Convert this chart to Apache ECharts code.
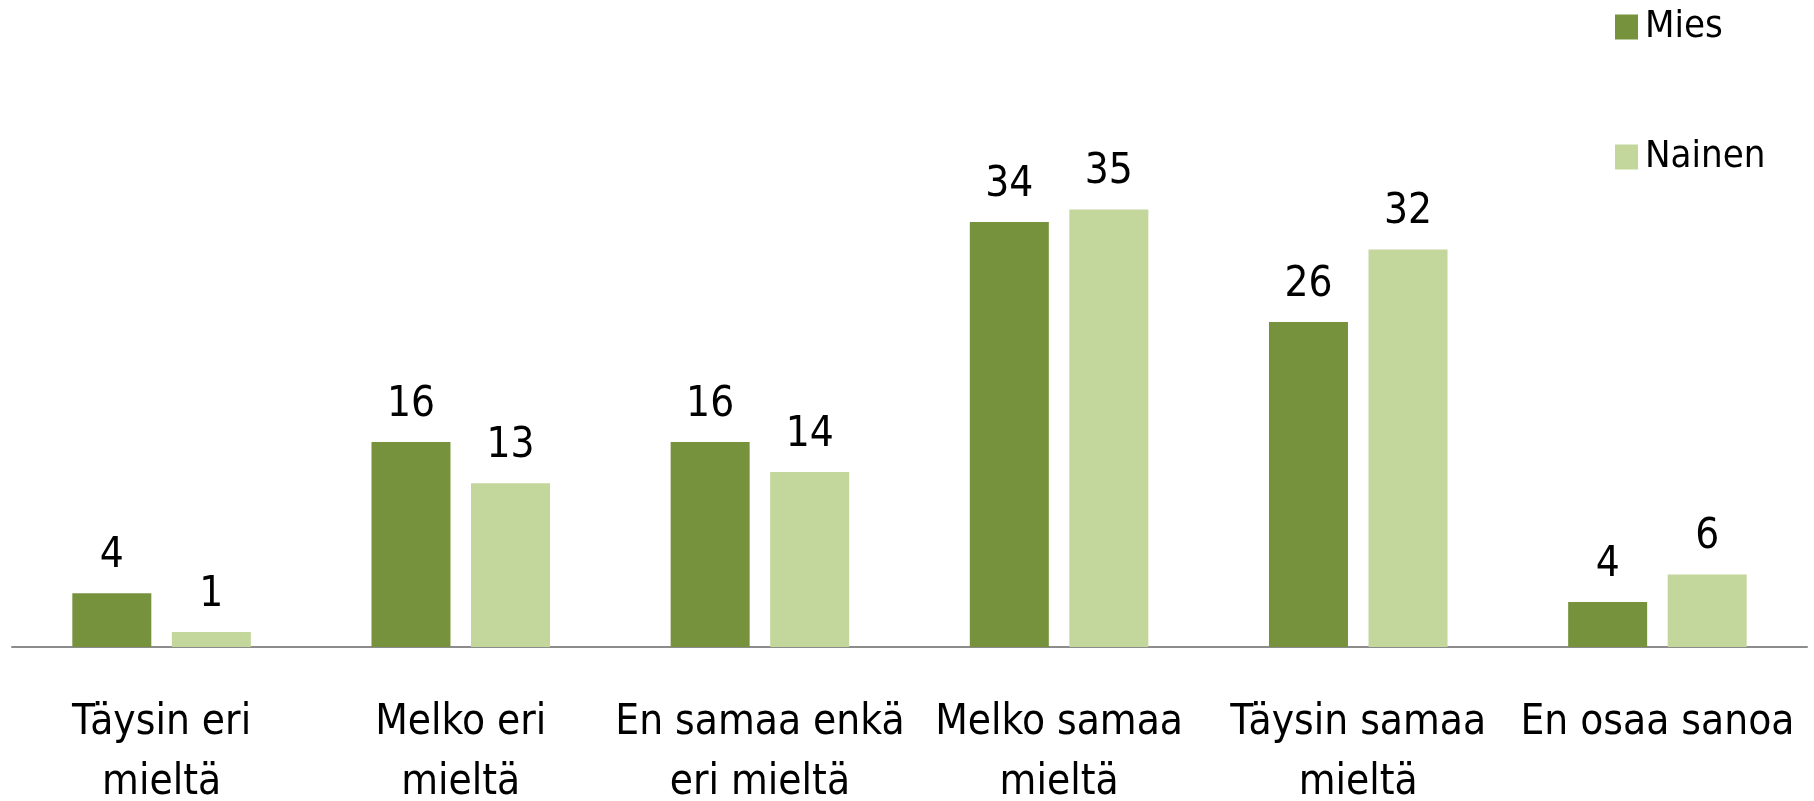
<!DOCTYPE html>
<html>
<head>
<meta charset="utf-8">
<script src="https://cdn.jsdelivr.net/npm/echarts@6/dist/echarts.min.js"></script>
<style>
  html, body { margin: 0; padding: 0; background: #fff; }
  #chart { width: 1814px; height: 801px; }
</style>
</head>
<body>
<div id="chart"></div>
<script>
    // categories and values (labels are the rounded %)
    var categories = ['Täysin eri\nmieltä', 'Melko eri\nmieltä', 'En samaa enkä\neri mieltä',
                      'Melko samaa\nmieltä', 'Täysin samaa\nmieltä', 'En osaa sanoa'];
    var seriesNames = ['Mies', 'Nainen'];
    var miesValues = [4.3, 16.4, 16.4, 34, 26, 3.6];
    var nainenValues = [1.2, 13.1, 14, 35, 31.8, 5.8];

    var fontName = '"Liberation Sans Narrow", "DejaVu Sans Condensed", "Liberation Sans", sans-serif';

    var labelStyle = {
        show: true,
        position: 'top',
        distance: 16,
        color: '#000',
        fontSize: 42,
        fontFamily: fontName,
        formatter: function (p) {
            return Math.round(p.value);
        }
    };

    var option = {
        animation: false,
        backgroundColor: '#fff',
        textStyle: { fontFamily: fontName },
        legend: {
            orient: 'vertical',
            left: 1610,
            top: 2,
            itemWidth: 23,
            itemHeight: 25,
            itemGap: 90,
            icon: 'rect',
            textStyle: { fontSize: 38, lineHeight: 40, color: '#000', fontFamily: fontName, padding: [0, 0, 0, 2] },
            data: seriesNames
        },
        grid: { left: 12, right: 7, top: 147, bottom: 154, outerBoundsMode: 'none', containLabel: false },
        xAxis: {
            type: 'category',
            data: categories,
            axisLine: { lineStyle: { color: '#8c8c8c', width: 2 } },
            axisTick: { show: false },
            axisLabel: {
                interval: 0,
                margin: 46,
                fontSize: 42,
                lineHeight: 60,
                color: '#000',
                fontFamily: fontName
            }
        },
        yAxis: {
            type: 'value',
            min: 0,
            max: 40,
            show: false,
            splitLine: { show: false }
        },
        series: [
            {
                name: seriesNames[0],
                type: 'bar',
                data: miesValues,
                barWidth: 79,
                barGap: '26%',
                itemStyle: { color: '#77923c' },
                label: labelStyle
            },
            {
                name: seriesNames[1],
                type: 'bar',
                data: nainenValues,
                barWidth: 79,
                barGap: '26%',
                itemStyle: { color: '#c3d69b' },
                label: labelStyle
            }
        ]
    };

    var myChart = echarts.init(document.getElementById('chart'));
    myChart.setOption(option);
</script>
</body>
</html>
